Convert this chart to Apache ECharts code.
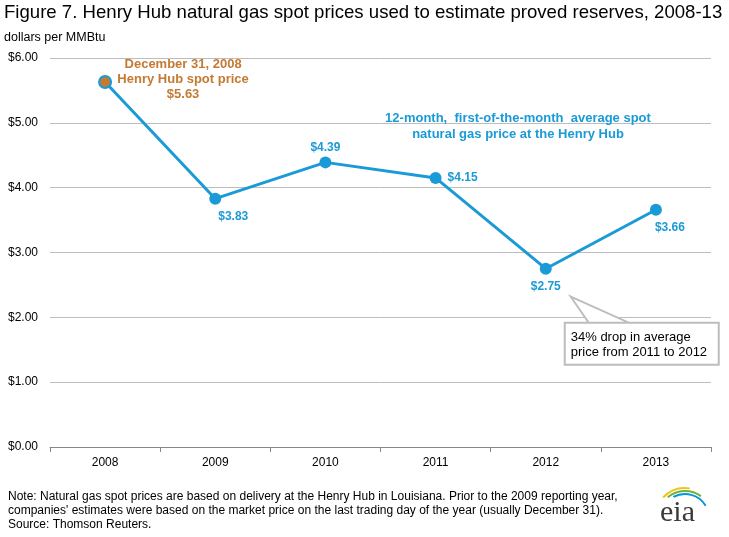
<!DOCTYPE html>
<html><head><meta charset="utf-8">
<script src="https://cdn.jsdelivr.net/npm/echarts@6/dist/echarts.min.js"></script>
<style>html,body{margin:0;padding:0;background:#fff}#c{width:729px;height:537px}</style>
</head><body><div id="c"></div>
<script>
const years = ['2008','2009','2010','2011','2012','2013'];
const prices = [5.63, 3.83, 4.39, 4.15, 2.75, 3.66];
const yTicks = [0,1,2,3,4,5,6];
const labelPos = ['right','bottom','top','right','bottom','bottom'];
const labelOffsets = [[0,0],[18,0],[0,3],[0,0],[0,0],[14,0]];

const BLUE = '#1a9ad6', ORANGE = '#c47a33', FONT = 'Liberation Sans, Arial, sans-serif';
const chart = echarts.init(document.getElementById('c'), null, {renderer:'canvas'});

const data = prices.map((v,i)=>{
  const d = {value:v};
  if(i===0){
    d.itemStyle = {color:ORANGE, borderColor:BLUE, borderWidth:2};
    d.label = {show:false};
  } else {
    d.label = {position: labelPos[i], offset: labelOffsets[i]};
  }
  return d;
});

chart.setOption({
  animation:false,
  textStyle:{fontFamily:FONT},
  grid:{left:50,right:18,top:58,bottom:90},
  xAxis:{type:'category',data:years,boundaryGap:true,
    axisLine:{lineStyle:{color:'#888',width:1}},
    axisTick:{show:true,length:5,lineStyle:{color:'#888'}},
    axisLabel:{color:'#000',fontSize:12,margin:10,fontFamily:FONT}},
  yAxis:{type:'value',min:yTicks[0],max:yTicks[yTicks.length-1],interval:1,
    axisLine:{show:false},axisTick:{show:false},
    splitLine:{lineStyle:{color:'#bdbdbd',width:1}},
    axisLabel:{color:'#000',fontSize:12,margin:12,fontFamily:FONT,formatter:v=>'$'+v.toFixed(2)}},
  series:[{type:'line',data:data,symbol:'circle',symbolSize:12,
    lineStyle:{color:BLUE,width:3},itemStyle:{color:BLUE},
    label:{show:true,color:BLUE,fontWeight:'bold',fontSize:12,fontFamily:FONT,distance:6,
      formatter:p=>'$'+p.value.toFixed(2)}}]
});

function drawGraphics(){
  const p0 = chart.convertToPixel({seriesIndex:0},[0,prices[0]]);
  const p4 = chart.convertToPixel({seriesIndex:0},[4,prices[4]]);
  const tip = [p4[0]+25, p4[1]+28];
  const bx = p4[0]+19, by = p4[1]+54, bw = 154, bh = 42;
  chart.setOption({graphic:[
    {type:'text',left:4,top:3,style:{text:'Figure 7. Henry Hub natural gas spot prices used to estimate proved reserves, 2008-13',font:'18.6px '+FONT,fill:'#000'}},
    {type:'text',left:4,top:31,style:{text:'dollars per MMBtu',font:'12.5px '+FONT,fill:'#000'}},
    {type:'text',x:p0[0]+78,y:p0[1]-25,style:{text:'December 31, 2008\nHenry Hub spot price\n$5.63',font:'bold 13px '+FONT,fill:ORANGE,align:'center',lineHeight:15}},
    {type:'text',x:518,y:110,style:{text:'12-month,  first-of-the-month  average spot\nnatural gas price at the Henry Hub',font:'bold 13px '+FONT,fill:BLUE,align:'center',lineHeight:16}},
    {type:'polygon',shape:{points:[[bx,by],[bx+bw,by],[bx+bw,by+bh],[bx,by+bh],[bx,by],[bx+24,by],[tip[0],tip[1]],[bx+64,by]]},style:{fill:'#fff',stroke:'#bdbdbd',lineWidth:2},z:10},
    {type:'text',x:bx+6,y:by+7,z:11,style:{text:'34% drop in average\nprice from 2011 to 2012',font:'13px '+FONT,fill:'#000',lineHeight:15}},
    {type:'text',left:8,top:490,style:{text:"Note: Natural gas spot prices are based on delivery at the Henry Hub in Louisiana. Prior to the 2009 reporting year,\ncompanies' estimates were based on the market price on the last trading day of the year (usually December 31).\nSource: Thomson Reuters.",font:'12px '+FONT,fill:'#000',lineHeight:14}},
    {type:'text',x:660,y:513,style:{text:'eia',font:'30px Liberation Serif, serif',fill:'#3a3a3a',verticalAlign:'middle'}},
    {type:'arc',shape:{cx:685,cy:518,r:30,startAngle:-Math.PI*0.76,endAngle:-Math.PI*0.45},style:{stroke:'#f2c21b',lineWidth:2,fill:null}},
    {type:'arc',shape:{cx:685,cy:518,r:27,startAngle:-Math.PI*0.72,endAngle:-Math.PI*0.3},style:{stroke:'#6cb33f',lineWidth:2,fill:null}},
    {type:'arc',shape:{cx:685,cy:518,r:24,startAngle:-Math.PI*0.66,endAngle:-Math.PI*0.17},style:{stroke:'#0096d7',lineWidth:2,fill:null}}
  ]});
}
drawGraphics();
</script></body></html>
